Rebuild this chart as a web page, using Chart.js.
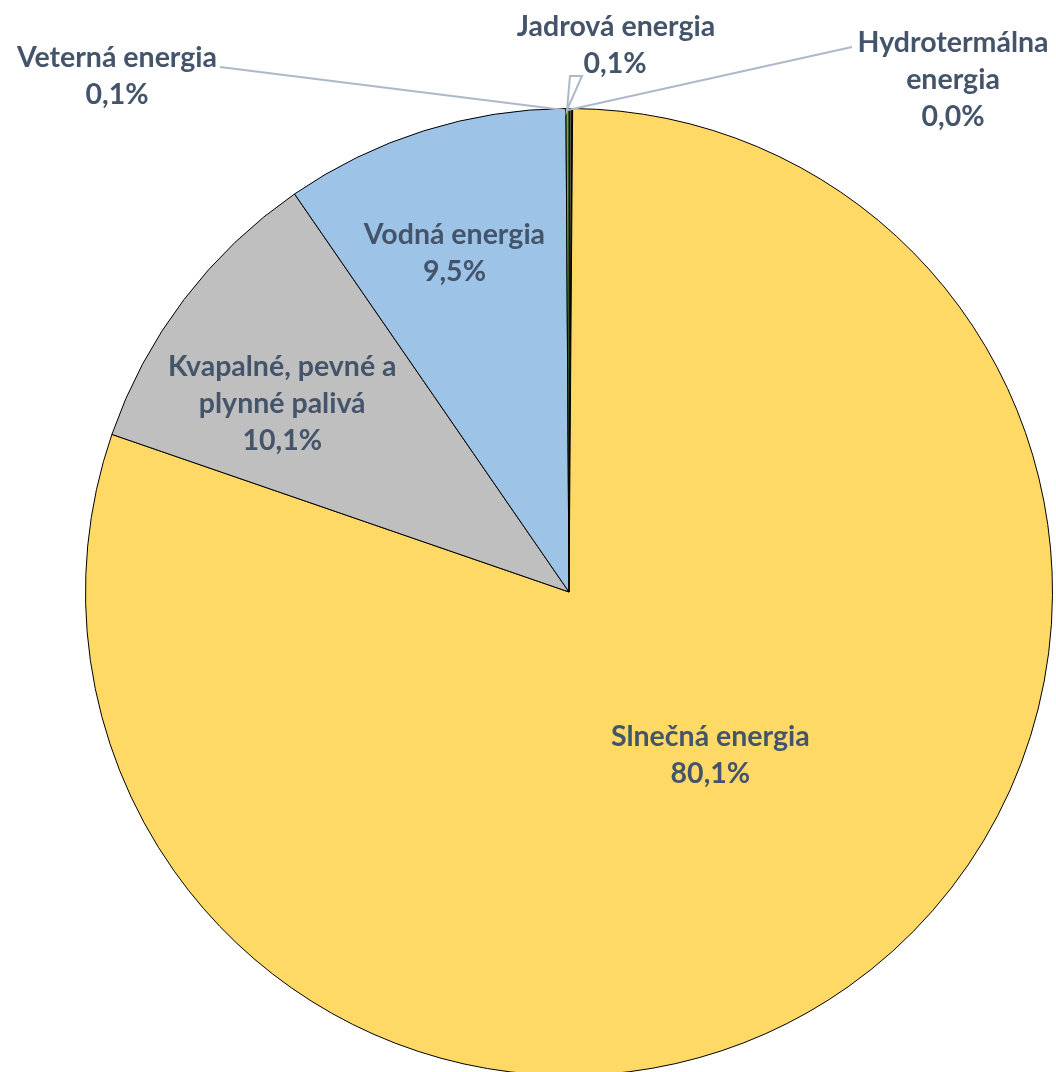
<!DOCTYPE html>
<html><head><meta charset="utf-8">
<script src="https://cdn.jsdelivr.net/npm/chart.js@4/dist/chart.umd.min.js"></script>
<style>html,body{margin:0;padding:0;background:#fff;overflow:hidden}#wrap{width:1056px;height:1076px;position:relative}</style>
</head><body><div id="wrap"><canvas id="c"></canvas></div>
<script>
const categories = ["Jadrová energia","Hydrotermálna energia","Slnečná energia","Kvapalné, pevné a plynné palivá","Vodná energia","Veterná energia"];
const labelLines = [["Jadrová energia"],["Hydrotermálna","energia"],["Slnečná energia"],["Kvapalné, pevné a","plynné palivá"],["Vodná energia"],["Veterná energia"]];
const values = [0.1, 0.02, 80.1, 10.1, 9.5, 0.1];
const colors = ["#5a5040","#8a6a30","#FFD966","#BFBFBF","#9DC3E6","#70AD47"];

const TXT = "#44546A", LEAD = "#ADB9CA";
const fontStr = "bold 28.5px Lato, 'Open Sans', sans-serif";
const place = [
  {out:true, x:616, y:27, lead:[[570,76],[582,76],[567,110]], tri:true},
  {out:true, x:953, y:43, lead:[[852,47],[568,110]]},
  {frac:0.446, dAng:-5.7},
  {frac:0.709, dAng:-4},
  {frac:0.74, dAng:-1.2},
  {out:true, x:117, y:58, lead:[[220,67],[564,110]]}
];

const labelPlugin = {
  id:'labels',
  afterDatasetsDraw(chart){
    const ctx = chart.ctx;
    const meta = chart.getDatasetMeta(0);
    ctx.save();
    ctx.font = fontStr;
    ctx.fillStyle = TXT;
    ctx.textAlign = 'center';
    ctx.textBaseline = 'middle';
    meta.data.forEach((arc,i)=>{
      const p = place[i];
      const lines = labelLines[i].concat([values[i].toFixed(1).replace('.',',')+'%']);
      const lh = 37;
      if(p.out){
        ctx.strokeStyle = LEAD; ctx.lineWidth = 2;
        ctx.beginPath();
        if(p.tri){
          ctx.moveTo(p.lead[0][0],p.lead[0][1]);
          ctx.lineTo(p.lead[2][0],p.lead[2][1]);
          ctx.lineTo(p.lead[1][0],p.lead[1][1]);
          ctx.closePath();
        } else {
          ctx.moveTo(p.lead[0][0],p.lead[0][1]);
          ctx.lineTo(p.lead[1][0],p.lead[1][1]);
        }
        ctx.stroke();
        lines.forEach((t,k)=>{
          let x = p.x;
          if(i===0 && k===1) x = 615;
          ctx.fillText(t, x, p.y + k*lh);
        });
      } else {
        const mid = (arc.startAngle+arc.endAngle)/2 + p.dAng*Math.PI/180;
        const r = arc.outerRadius*p.frac;
        const cx = arc.x + Math.cos(mid)*r;
        const cy = arc.y + Math.sin(mid)*r;
        const top = cy - (lines.length-1)*lh/2;
        lines.forEach((t,k)=>ctx.fillText(t, cx, top + k*lh));
      }
    });
    ctx.restore();
  }
};

new Chart(document.getElementById('c'),{
  type:'pie',
  data:{labels:categories,datasets:[{data:values,backgroundColor:colors,borderColor:'#000',borderWidth:1}]},
  options:{
    responsive:true,maintainAspectRatio:false,animation:false,
    layout:{padding:{left:85,right:3,top:108,bottom:0}},
    plugins:{legend:{display:false},tooltip:{enabled:false}}
  },
  plugins:[labelPlugin]
});
</script></body></html>
